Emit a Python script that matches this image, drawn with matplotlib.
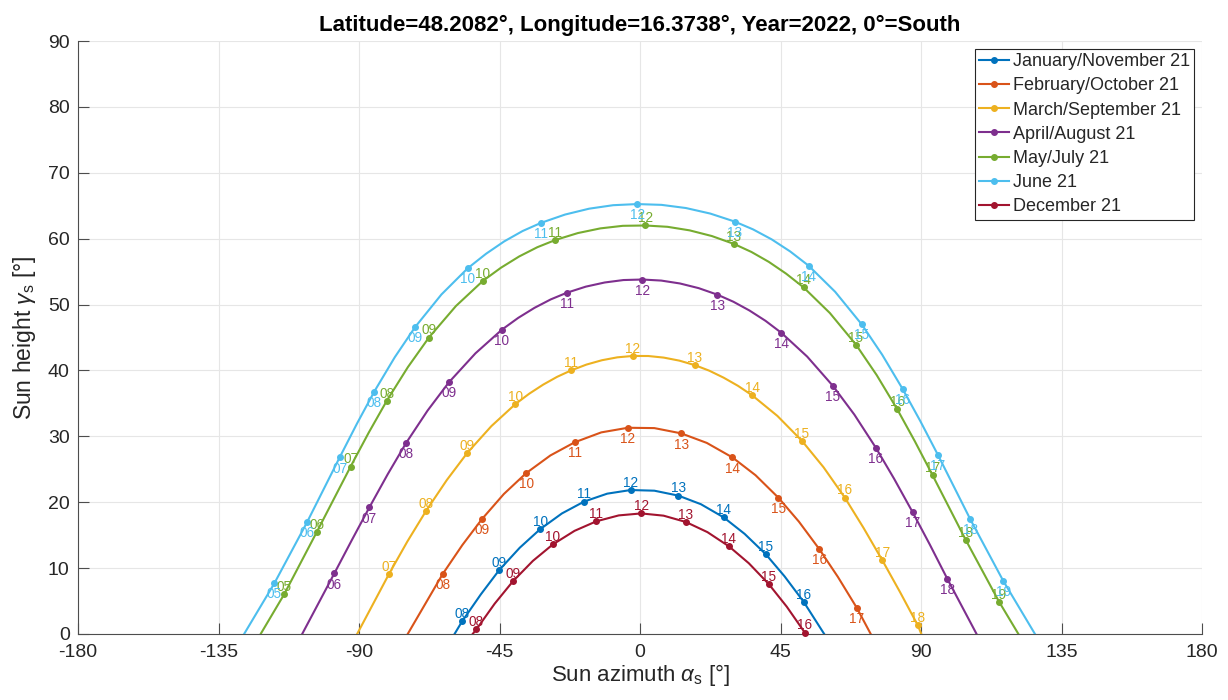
import numpy as np
import matplotlib
matplotlib.use("Agg")
import matplotlib.pyplot as plt
from matplotlib.legend_handler import HandlerTuple

plt.rcParams['font.family'] = ['Liberation Sans', 'DejaVu Sans']
plt.rcParams['mathtext.fontset'] = 'custom'
plt.rcParams['mathtext.rm'] = 'Liberation Sans'
plt.rcParams['mathtext.it'] = 'Liberation Sans:italic'
plt.rcParams['mathtext.bf'] = 'Liberation Sans:bold'

# ---------------- data ----------------
labels = ["January/November 21", "February/October 21", "March/September 21",
          "April/August 21", "May/July 21", "June 21", "December 21"]
colors = ["#0072BD", "#D95319", "#EDB120", "#7E2F8E", "#77AC30", "#4DBEEE", "#A2142F"]

# full-hour markers (azimuth, height) and extra points
jan_hours = [8, 9, 10, 11, 12, 13, 14, 15, 16]
jan_az = [-57.0, -45.1, -32.0, -17.9, -3.0, 12.3, 26.8, 40.3, 52.4]
jan_h = [1.9, 9.7, 15.9, 20.1, 21.85, 21.0, 17.7, 12.1, 4.9]
jan_mid_az = [-51.0, -38.5, -25.0, -10.5, 4.6, 19.5, 33.5, 46.3]
jan_mid_h = [6.0, 13.1, 18.3, 21.3, 21.75, 19.7, 15.2, 8.75]
jan_rise_set = [-59.4, 59.0]

feb_hours = [8, 9, 10, 11, 12, 13, 14, 15, 16, 17]
feb_az = [-63.2, -50.6, -36.5, -20.9, -3.9, 13.2, 29.6, 44.3, 57.4, 69.4]
feb_h = [9.1, 17.45, 24.4, 29.1, 31.3, 30.45, 26.8, 20.7, 12.9, 4.0]
feb_mid_az = [-56.9, -43.6, -28.7, -12.4, 4.6, 21.4, 37.0, 50.9, 63.4]
feb_mid_h = [13.5, 21.25, 27.1, 30.6, 31.25, 29.0, 24.1, 17.05, 8.65]
feb_rise_set = [-74.4, 73.9]

mar_hours = [7, 8, 9, 10, 11, 12, 13, 14, 15, 16, 17, 18]
mar_az = [-80.4, -68.5, -55.3, -39.9, -22.1, -2.3, 17.6, 36.0, 51.9, 65.6, 77.6, 89.0]
mar_h = [9.1, 18.7, 27.5, 34.9, 40.0, 42.2, 40.8, 36.2, 29.3, 20.7, 11.2, 1.3]
mar_mid_az = [-74.5, -61.9, -47.6, -35.45, -31.0, -26.55, -17.15, -12.2, -7.25,
              2.65, 7.6, 12.6, 22.2, 26.8, 31.4, 44.0, 58.8, 71.6, 83.3]
mar_mid_h = [14.05, 23.35, 31.55, 36.48, 37.85, 39.03, 40.89, 41.55, 41.99,
             42.19, 41.95, 41.49, 39.96, 38.9, 37.66, 33.1, 25.3, 16.1, 6.35]
mar_rise_set = [-90.6, 90.1]

apr_hours = [6, 7, 8, 9, 10, 11, 12, 13, 14, 15, 16, 17, 18]
apr_az = [-97.9, -86.7, -74.9, -61.2, -44.2, -23.4, 0.75, 24.8, 45.3, 61.8, 75.5, 87.3, 98.4]
apr_h = [9.2, 19.2, 29.0, 38.2, 46.2, 51.8, 53.8, 51.5, 45.7, 37.65, 28.3, 18.5, 8.4]
apr_mid_az = [-92.3, -80.8, -68.05, -52.7, -39.0, -33.8, -28.6, -17.35, -11.3, -5.3,
              6.8, 12.8, 18.8, 29.9, 35.05, 40.2, 53.55, 68.65, 81.4, 92.85]
apr_mid_h = [14.25, 24.25, 33.9, 42.6, 47.98, 49.5, 50.78, 52.72, 53.35, 53.72,
             53.64, 53.2, 52.49, 50.43, 49.1, 47.53, 42.1, 33.3, 23.55, 13.55]
apr_rise_set = [-108.2, 107.8]

may_hours = [5, 6, 7, 8, 9, 10, 11, 12, 13, 14, 15, 16, 17, 18, 19]
may_az = [-114.0, -103.5, -92.7, -81.1, -67.6, -50.3, -27.1, 1.7, 30.1, 52.4, 69.2, 82.4, 93.7, 104.3, 115.0]
may_h = [6.0, 15.5, 25.4, 35.4, 45.0, 53.6, 59.8, 62.0, 59.2, 52.6, 43.9, 34.1, 24.1, 14.3, 4.9]
may_mid_az = [-86.9, -74.35, -58.95, -44.5, -38.7, -32.9, -19.9, -12.7, -5.5,
              8.8, 15.9, 23.0, 35.7, 41.25, 46.8, 60.8, 75.8, 88.05]
may_mid_h = [30.55, 40.5, 49.78, 55.6, 57.3, 58.7, 60.85, 61.56, 61.95,
             61.8, 61.26, 60.4, 57.98, 56.48, 54.69, 48.72, 39.3, 29.23]
may_rise_set = [-121.5, 121.2]

jun_hours = [5, 6, 7, 8, 9, 10, 11, 12, 13, 14, 15, 16, 17, 18, 19]
jun_az = [-117.1, -106.6, -96.2, -85.1, -72.0, -55.2, -31.7, -0.9, 30.3, 54.0, 71.0, 84.1, 95.4, 105.8, 116.3]
jun_h = [7.7, 17.0, 26.8, 36.8, 46.6, 55.5, 62.4, 65.25, 62.6, 55.9, 47.0, 37.2, 27.2, 17.4, 8.1]
jun_mid_az = [-90.65, -78.55, -63.6, -49.3, -43.45, -37.6, -24.0, -16.3, -8.6,
              6.9, 14.7, 22.5, 36.2, 42.15, 48.1, 62.5, 77.55, 89.75]
jun_mid_h = [31.93, 42.0, 51.53, 57.71, 59.6, 61.16, 63.66, 64.55, 65.08,
             65.13, 64.65, 63.81, 61.41, 59.9, 58.06, 51.94, 42.4, 32.34]
jun_rise_set = [-126.8, 126.5]

dec_hours = [8, 9, 10, 11, 12, 13, 14, 15, 16]
dec_az = [-52.4, -40.7, -27.9, -14.0, 0.4, 14.7, 28.5, 41.2, 52.8]
dec_h = [0.7, 8.0, 13.6, 17.1, 18.3, 17.0, 13.3, 7.6, 0.2]
dec_mid_az = [-46.55, -34.3, -20.95, -6.8, 7.55, 21.6, 34.85, 47.0]
dec_mid_h = [4.6, 11.1, 15.66, 18.0, 17.96, 15.46, 10.74, 4.15]
dec_rise_set = [-53.6, 53.1]

series = [
    (jan_hours, jan_az, jan_h, jan_mid_az, jan_mid_h, jan_rise_set, 'above'),
    (feb_hours, feb_az, feb_h, feb_mid_az, feb_mid_h, feb_rise_set, 'below'),
    (mar_hours, mar_az, mar_h, mar_mid_az, mar_mid_h, mar_rise_set, 'above'),
    (apr_hours, apr_az, apr_h, apr_mid_az, apr_mid_h, apr_rise_set, 'below'),
    (may_hours, may_az, may_h, may_mid_az, may_mid_h, may_rise_set, 'above'),
    (jun_hours, jun_az, jun_h, jun_mid_az, jun_mid_h, jun_rise_set, 'below'),
    (dec_hours, dec_az, dec_h, dec_mid_az, dec_mid_h, dec_rise_set, 'above'),
]

x_ticks = [-180, -135, -90, -45, 0, 45, 90, 135, 180]
y_ticks = [0, 10, 20, 30, 40, 50, 60, 70, 80, 90]

title = "Latitude=48.2082°, Longitude=16.3738°, Year=2022, 0°=South"

# ---------------- figure ----------------
W, H = 1228, 700
fig = plt.figure(figsize=(W / 100, H / 100), dpi=100)
ax = fig.add_axes([78 / W, 1 - 634 / H, 1124 / W, 593 / H])

TXT = '#262626'
handles = []
for (hours, az, h, maz, mh, rs, side), col in zip(series, colors):
    path_az = np.array([rs[0]] + list(az) + list(maz) + [rs[1]])
    path_h = np.array([0.0] + list(h) + list(mh) + [0.0])
    order = np.argsort(path_az)
    ln, = ax.plot(path_az[order], path_h[order], color=col, lw=1.5,
                  solid_joinstyle='round', zorder=3)
    mk, = ax.plot(az, h, linestyle='None', marker='o', ms=4.0, color=col,
                  clip_on=False, zorder=4)
    handles.append((ln, mk))
    dy = 2.3 if side == 'above' else -10.9
    for hr, a, v in zip(hours, az, h):
        ax.annotate(f"{hr:02d}", (a, v), xytext=(0, dy), textcoords='offset points',
                    ha='center', va='baseline', fontsize=9.8, color=col, zorder=5)

ax.set_xlim(-180, 180)
ax.set_ylim(0, 90)
ax.set_xticks(x_ticks)
ax.set_xticklabels([str(t) for t in x_ticks])
ax.set_yticks(y_ticks)
ax.grid(True, color='#e6e6e6', lw=0.8, zorder=0)
ax.set_axisbelow(True)
for s in ['top', 'right']:
    ax.spines[s].set_visible(False)
for s in ['left', 'bottom']:
    ax.spines[s].set_color('#4d4d4d')
    ax.spines[s].set_linewidth(0.8)
ax.tick_params(direction='in', length=8, width=0.8, color='#4d4d4d',
               labelsize=14, labelcolor=TXT)
ax.tick_params(axis='x', pad=7)
ax.tick_params(axis='y', pad=6)

ax.set_xlabel(r"Sun azimuth $\alpha_\mathrm{s}$ [°]", fontsize=16, color=TXT, labelpad=1)
ax.set_ylabel(r"Sun height $\gamma_\mathrm{s}$ [°]", fontsize=16.5, color=TXT, labelpad=7)
ax.set_title(title, fontsize=16, fontweight='bold', color='#000000', pad=7)

leg = ax.legend(handles, labels, handler_map={tuple: HandlerTuple(ndivide=1)},
                loc='upper right', bbox_to_anchor=(1, 1), borderaxespad=0.42,
                fontsize=13, frameon=True, fancybox=False, framealpha=1,
                edgecolor='#262626', handlelength=1.67, handletextpad=0.2,
                borderpad=0.25, labelspacing=0.4)
leg.get_frame().set_linewidth(0.8)
for t in leg.get_texts():
    t.set_color(TXT)

fig.savefig("out.png", dpi=100, facecolor='white')
